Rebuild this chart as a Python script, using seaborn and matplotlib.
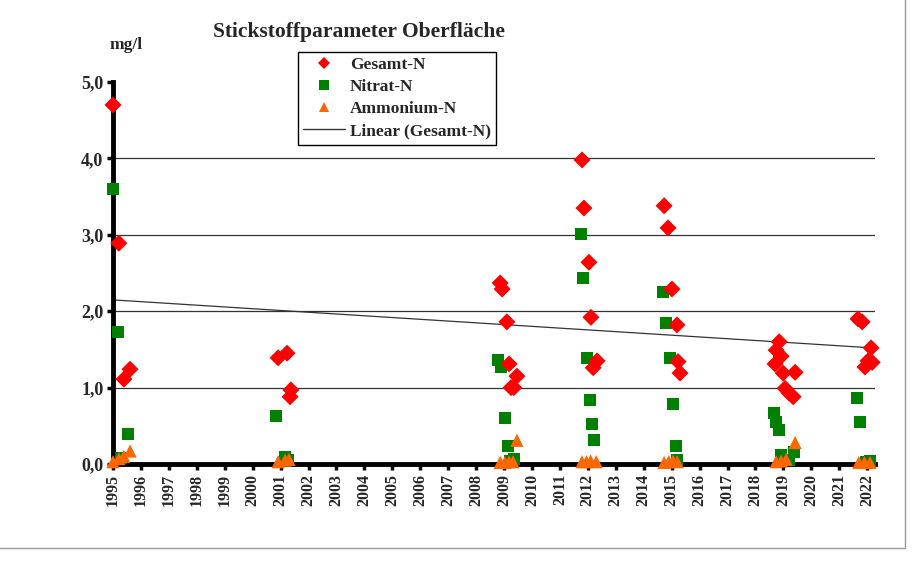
import numpy as np
import pandas as pd
import matplotlib
matplotlib.use("Agg")
import matplotlib.pyplot as plt
import seaborn as sns
from matplotlib.lines import Line2D
from matplotlib.patches import Rectangle

# ---- data (decimal year, mg/l) ----
gesamt_t = [1995.00, 1995.21, 1995.39, 1995.61,
            2000.91, 2001.23, 2001.34, 2001.37,
            2008.86, 2008.93, 2009.10, 2009.18, 2009.25, 2009.35, 2009.46,
            2011.79, 2011.86, 2012.04, 2012.11, 2012.33, 2012.19,
            2014.73, 2014.87, 2015.01, 2015.19, 2015.23, 2015.30,
            2018.85, 2018.74, 2018.92, 2018.70, 2018.99, 2019.42, 2019.06, 2019.20, 2019.35,
            2021.67, 2021.82, 2022.14, 2022.03, 2021.92, 2022.18]
gesamt_v = [4.70, 2.89, 1.11, 1.24,
            1.39, 1.45, 0.88, 0.97,
            2.37, 2.29, 1.86, 1.31, 1.00, 1.00, 1.15,
            3.98, 3.35, 2.64, 1.92, 1.35, 1.26,
            3.38, 3.09, 2.29, 1.82, 1.34, 1.19,
            1.60, 1.49, 1.41, 1.31, 1.19, 1.20, 0.99, 0.93, 0.88,
            1.90, 1.86, 1.52, 1.35, 1.27, 1.33]

nitrat_t = [1995.00, 1995.18, 1995.54, 1995.29,
            2000.84, 2001.16, 2001.25,
            2008.79, 2008.89, 2009.03, 2009.14, 2009.36, 2009.22,
            2011.76, 2011.83, 2011.97, 2012.08, 2012.15, 2012.22,
            2014.69, 2014.80, 2014.94, 2015.05, 2015.16, 2015.18,
            2018.67, 2018.74, 2018.85, 2018.92, 2019.38, 2019.20,
            2021.64, 2021.75, 2022.10, 2021.96]
nitrat_v = [3.60, 1.73, 0.39, 0.08,
            0.63, 0.09, 0.05,
            1.36, 1.27, 0.60, 0.24, 0.07, 0.04,
            3.01, 2.43, 1.39, 0.84, 0.52, 0.31,
            2.25, 1.85, 1.39, 0.79, 0.24, 0.05,
            0.67, 0.55, 0.44, 0.12, 0.16, 0.05,
            0.86, 0.55, 0.04, 0.03]

ammon_t = [1995.00, 1995.21, 1995.39, 1995.61,
           2000.91, 2001.16, 2001.30,
           2008.86, 2009.03, 2009.18, 2009.32, 2009.46,
           2011.79, 2011.95, 2012.10, 2012.30,
           2014.73, 2014.90, 2015.05, 2015.20,
           2018.74, 2018.92, 2019.10, 2019.42,
           2021.70, 2021.90, 2022.10]
ammon_v = [0.03, 0.07, 0.10, 0.17,
           0.03, 0.05, 0.06,
           0.02, 0.02, 0.03, 0.03, 0.31,
           0.03, 0.03, 0.04, 0.03,
           0.02, 0.03, 0.04, 0.03,
           0.03, 0.04, 0.06, 0.28,
           0.02, 0.02, 0.02]

years = list(range(1995, 2023))
y_ticks = [0, 1, 2, 3, 4, 5]
y_labels = ["0,0", "1,0", "2,0", "3,0", "4,0", "5,0"]

sns.set_theme(style="white")
serif = ["Liberation Serif", "DejaVu Serif"]
plt.rcParams["font.family"] = serif
plt.rcParams["font.weight"] = "bold"

fig = plt.figure(figsize=(9.17, 5.64), dpi=100)
ax = fig.add_axes([113 / 917, 1 - 464 / 564, (875 - 113) / 917, (464 - 82) / 564])

# gridlines
for g in [1, 2, 3, 4]:
    ax.axhline(g, color="#333333", lw=0.9, zorder=0)

# trend line (linear regression of Gesamt-N)
xlim = (1995.0, 2022.28)
coef = np.polyfit(gesamt_t, gesamt_v, 1)
xs = np.array(xlim)
ax.plot(xs, np.polyval(coef, xs), color="#333333", lw=0.9, zorder=1)

df_g = pd.DataFrame({"t": gesamt_t, "v": gesamt_v})
df_n = pd.DataFrame({"t": nitrat_t, "v": nitrat_v})
df_a = pd.DataFrame({"t": ammon_t, "v": ammon_v})

sns.scatterplot(data=df_a, x="t", y="v", marker="^", s=90, color="#FF6600",
                edgecolor="none", ax=ax, zorder=3, clip_on=False)
sns.scatterplot(data=df_n, x="t", y="v", marker="s", s=75, color="#008000",
                edgecolor="none", ax=ax, zorder=4, clip_on=False)
sns.scatterplot(data=df_g, x="t", y="v", marker="D", s=75, color="#FF0000",
                edgecolor="none", ax=ax, zorder=5, clip_on=False)
ax.collections[0].set_zorder(6)

ax.set_xlim(*xlim)
ax.set_ylim(0, 5)
ax.set_xticks(years)
ax.set_xticklabels([str(y) for y in years], rotation=90, fontsize=11.5, fontweight="bold")
ax.set_yticks(y_ticks)
ax.set_yticklabels(y_labels, fontsize=13, fontweight="bold")
ax.set_xlabel("")
ax.set_ylabel("")

for s in ["top", "right"]:
    ax.spines[s].set_visible(False)
for s in ["left", "bottom"]:
    ax.spines[s].set_visible(True)
    ax.spines[s].set_color("black")
    ax.spines[s].set_linewidth(3.5)
ax.tick_params(axis="both", which="major", direction="out", length=4, width=2.5,
               color="black", bottom=True, left=True, pad=3)

fig.text(213 / 917, 1 - 32 / 564, "Stickstoffparameter Oberfläche", fontsize=15.5,
         fontweight="bold", va="center", ha="left")
fig.text(110 / 917, 1 - 45 / 564, "mg/l", fontsize=12.5, fontweight="bold",
         va="center", ha="left")

handles = [
    Line2D([], [], marker="D", color="#FF0000", ls="none", markersize=6, markeredgewidth=0),
    Line2D([], [], marker="s", color="#008000", ls="none", markersize=7, markeredgewidth=0),
    Line2D([], [], marker="^", color="#FF6600", ls="none", markersize=7, markeredgewidth=0),
    Line2D([], [], color="#333333", lw=1),
]
labels = ["Gesamt-N", "Nitrat-N", "Ammonium-N", "Linear (Gesamt-N)"]
leg = fig.legend(handles, labels, loc="upper left",
                 bbox_to_anchor=(298 / 917, 1 - 52 / 564), frameon=True,
                 fancybox=False, edgecolor="black", framealpha=1,
                 prop={"family": serif, "weight": "bold", "size": 12.5},
                 handlelength=2.4, handletextpad=0.3, labelspacing=0.34,
                 borderpad=0.3, borderaxespad=0)
leg.get_frame().set_linewidth(1.0)

# outer chart border
fig.patches.append(Rectangle((-0.01, 1 - 548 / 564), 905 / 917 + 0.01, 548 / 564 + 0.02,
                             transform=fig.transFigure, fill=False,
                             edgecolor="#999999", lw=1))

fig.savefig("out.png", dpi=100)
